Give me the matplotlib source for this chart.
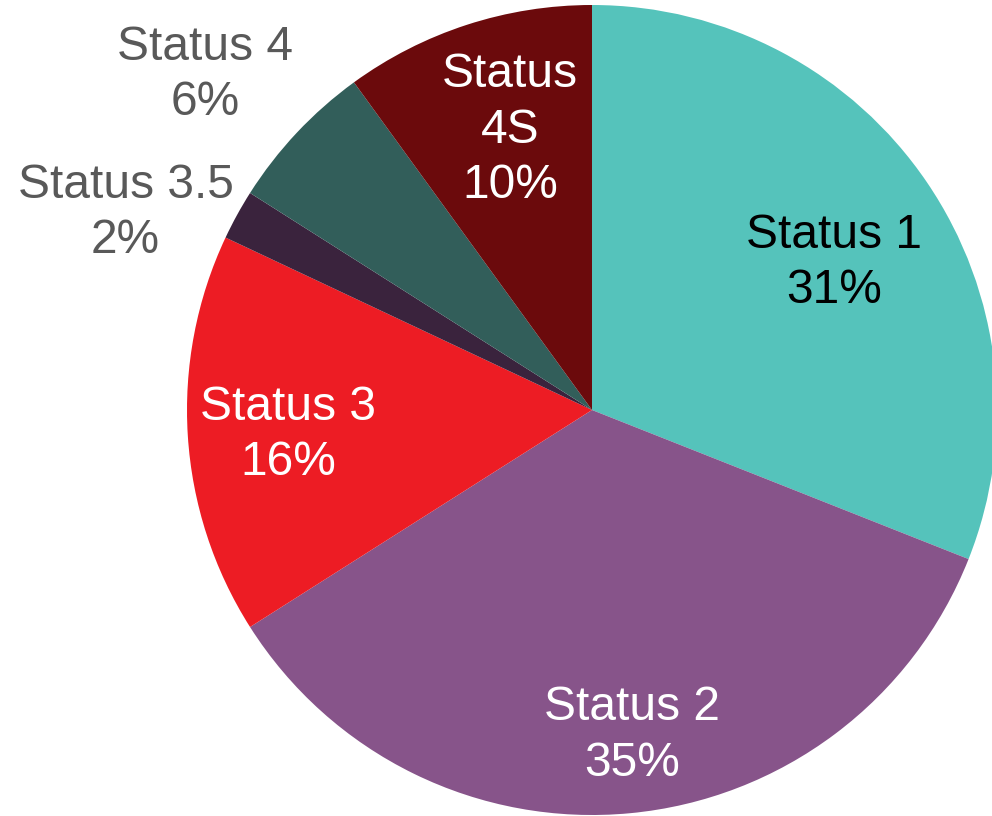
import numpy as np
import matplotlib
matplotlib.use("Agg")
import matplotlib.pyplot as plt

labels = ["Status 1", "Status 2", "Status 3", "Status 3.5", "Status 4", "Status\n4S"]
values = [31, 35, 16, 2, 6, 10]
colors = ["#55C3BB", "#87548A", "#ED1C24", "#3A233D", "#325E5A", "#6B0A0C"]
text_colors = ["#000000", "#FFFFFF", "#FFFFFF", "#595959", "#595959", "#FFFFFF"]
label_dist = [0.70, 0.81, 0.753, 1.25, 1.264, 0.72]
label_angle_shift = [-3.0, 1.6, 1.1, 5.9, 2.3, -1.7]

plt.rcParams['font.family'] = ['Liberation Sans', 'DejaVu Sans']

W, H = 992, 816
fig = plt.figure(figsize=(W / 100, H / 100), dpi=100)
ax = fig.add_axes([0, 0, 1, 1])

cx, cy, R = 592, H - 410, 405
wedges, _ = ax.pie(values, colors=colors, startangle=90, counterclock=False,
                   center=(cx, cy), radius=R,
                   wedgeprops=dict(linewidth=0))
ax.set_xlim(0, W)
ax.set_ylim(0, H)
ax.set_aspect('equal')
ax.axis('off')

total = sum(values)
for w, lab, v, tc, d, s in zip(wedges, labels, values, text_colors, label_dist, label_angle_shift):
    mid = np.deg2rad((w.theta1 + w.theta2) / 2 + s)
    x = cx + d * R * np.cos(mid)
    y = cy + d * R * np.sin(mid)
    ax.text(x, y, f"{lab}\n{round(100 * v / total)}%", ha='center', va='center',
            color=tc, fontsize=34.5, linespacing=1.3)

fig.savefig("out.png", dpi=100)
